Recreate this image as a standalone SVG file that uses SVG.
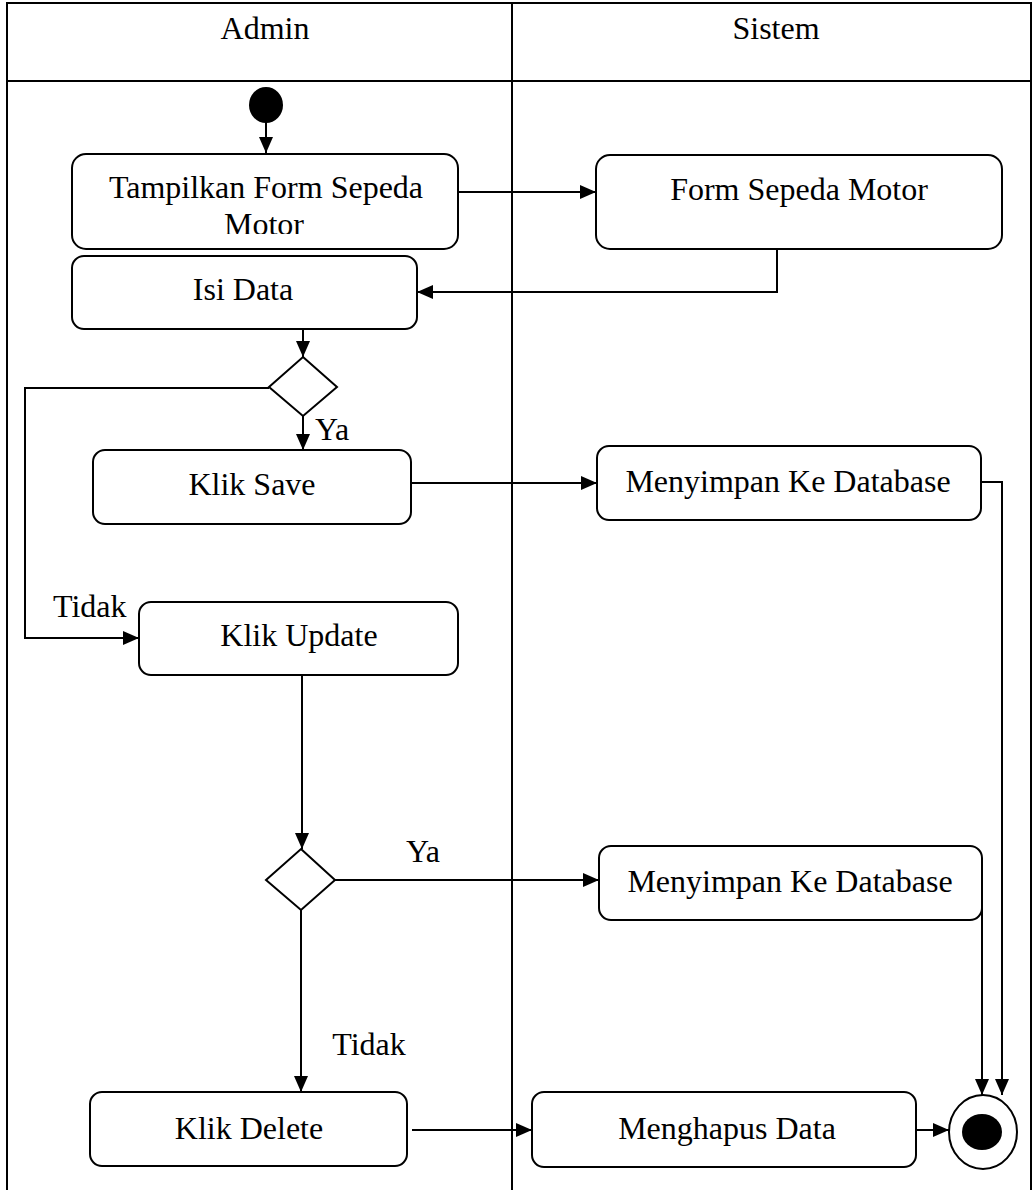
<svg xmlns="http://www.w3.org/2000/svg" width="1033" height="1190" viewBox="0 0 1033 1190">
<style>
.frame{fill:none;stroke:#000;stroke-width:2}
.act{fill:#fff;stroke:#000;stroke-width:2}
.dec{fill:#fff;stroke:#000;stroke-width:2}
.line{fill:none;stroke:#000;stroke-width:2}
.arr{fill:none;stroke:#000;stroke-width:2;marker-end:url(#ah)}
text{font-family:"Liberation Serif","Times New Roman",serif;font-size:32px;fill:#000}
.c{text-anchor:middle}
</style>
<defs>
<marker id="ah" viewBox="0 0 16 14" refX="16" refY="7" markerWidth="16" markerHeight="14" markerUnits="userSpaceOnUse" orient="auto">
<path d="M0,0 L16,7 L0,14 z" fill="#000"/>
</marker>
<clipPath id="clipT"><rect x="72" y="154" width="386" height="80"/></clipPath>
</defs>
<rect width="1033" height="1190" fill="#fff"/>
<g id="swimlanes">
<path class="frame" d="M7,1190 V3 H1031 V1190"/>
<line class="frame" x1="7" y1="81" x2="1031" y2="81"/>
<line class="frame" x1="512" y1="3" x2="512" y2="1190"/>
<text class="c" x="265" y="39">Admin</text>
<text class="c" x="776" y="39">Sistem</text>
</g>
<g id="connectors">
<line class="arr" x1="266" y1="122" x2="266" y2="153"/>
<line class="arr" x1="458" y1="192" x2="596" y2="192"/>
<polyline class="arr" points="777,249 777,292 417,292"/>
<line class="arr" x1="303" y1="329" x2="303" y2="357"/>
<line class="arr" x1="303" y1="416" x2="303" y2="450"/>
<polyline class="arr" points="269,388 25,388 25,638 139,638"/>
<line class="arr" x1="411" y1="483" x2="597" y2="483"/>
<polyline class="arr" points="981,482 1002,482 1002,1095"/>
<line class="arr" x1="302" y1="675" x2="302" y2="849"/>
<line class="arr" x1="335" y1="880" x2="599" y2="880"/>
<line class="arr" x1="982" y1="905" x2="982" y2="1095"/>
<line class="arr" x1="301" y1="910" x2="301" y2="1092"/>
<line class="arr" x1="412" y1="1130" x2="532" y2="1130"/>
<line class="arr" x1="916" y1="1130" x2="949" y2="1130"/>
<text x="315" y="440">Ya</text>
<text x="53" y="617">Tidak</text>
<text class="c" x="423" y="862">Ya</text>
<text class="c" x="369" y="1055">Tidak</text>
</g>
<g id="start"><ellipse cx="266" cy="105" rx="17" ry="18" fill="#000"/></g>
<g id="tampilkan">
<rect class="act" x="72" y="154" width="386" height="95" rx="14"/>
<g clip-path="url(#clipT)">
<text class="c" x="266" y="198">Tampilkan Form Sepeda</text>
<text class="c" x="264" y="235">Motor</text>
</g>
</g>
<g id="formSepeda">
<rect class="act" x="596" y="155" width="406" height="94" rx="14"/>
<text class="c" x="799" y="200">Form Sepeda Motor</text>
</g>
<g id="isiData">
<rect class="act" x="72" y="256" width="345" height="73" rx="12"/>
<text class="c" x="243" y="300">Isi Data</text>
</g>
<g id="decision1"><polygon class="dec" points="303,357 337,387 303,416 269,387"/></g>
<g id="klikSave">
<rect class="act" x="93" y="450" width="318" height="74" rx="12"/>
<text class="c" x="252" y="495">Klik Save</text>
</g>
<g id="simpan1">
<rect class="act" x="597" y="446" width="384" height="74" rx="12"/>
<text class="c" x="788" y="492">Menyimpan Ke Database</text>
</g>
<g id="klikUpdate">
<rect class="act" x="139" y="602" width="319" height="73" rx="12"/>
<text class="c" x="299" y="646">Klik Update</text>
</g>
<g id="decision2"><polygon class="dec" points="301,849 335,880 301,910 266,880"/></g>
<g id="simpan2">
<rect class="act" x="599" y="846" width="383" height="74" rx="12"/>
<text class="c" x="790" y="892">Menyimpan Ke Database</text>
</g>
<g id="klikDelete">
<rect class="act" x="90" y="1092" width="317" height="74" rx="12"/>
<text class="c" x="249" y="1139">Klik Delete</text>
</g>
<g id="hapus">
<rect class="act" x="532" y="1092" width="384" height="75" rx="12"/>
<text class="c" x="727" y="1139">Menghapus Data</text>
</g>
<g id="end">
<ellipse cx="983" cy="1132" rx="34" ry="37" fill="#fff" stroke="#000" stroke-width="2"/>
<ellipse cx="982" cy="1132" rx="20" ry="18" fill="#000"/>
</g>
</svg>
